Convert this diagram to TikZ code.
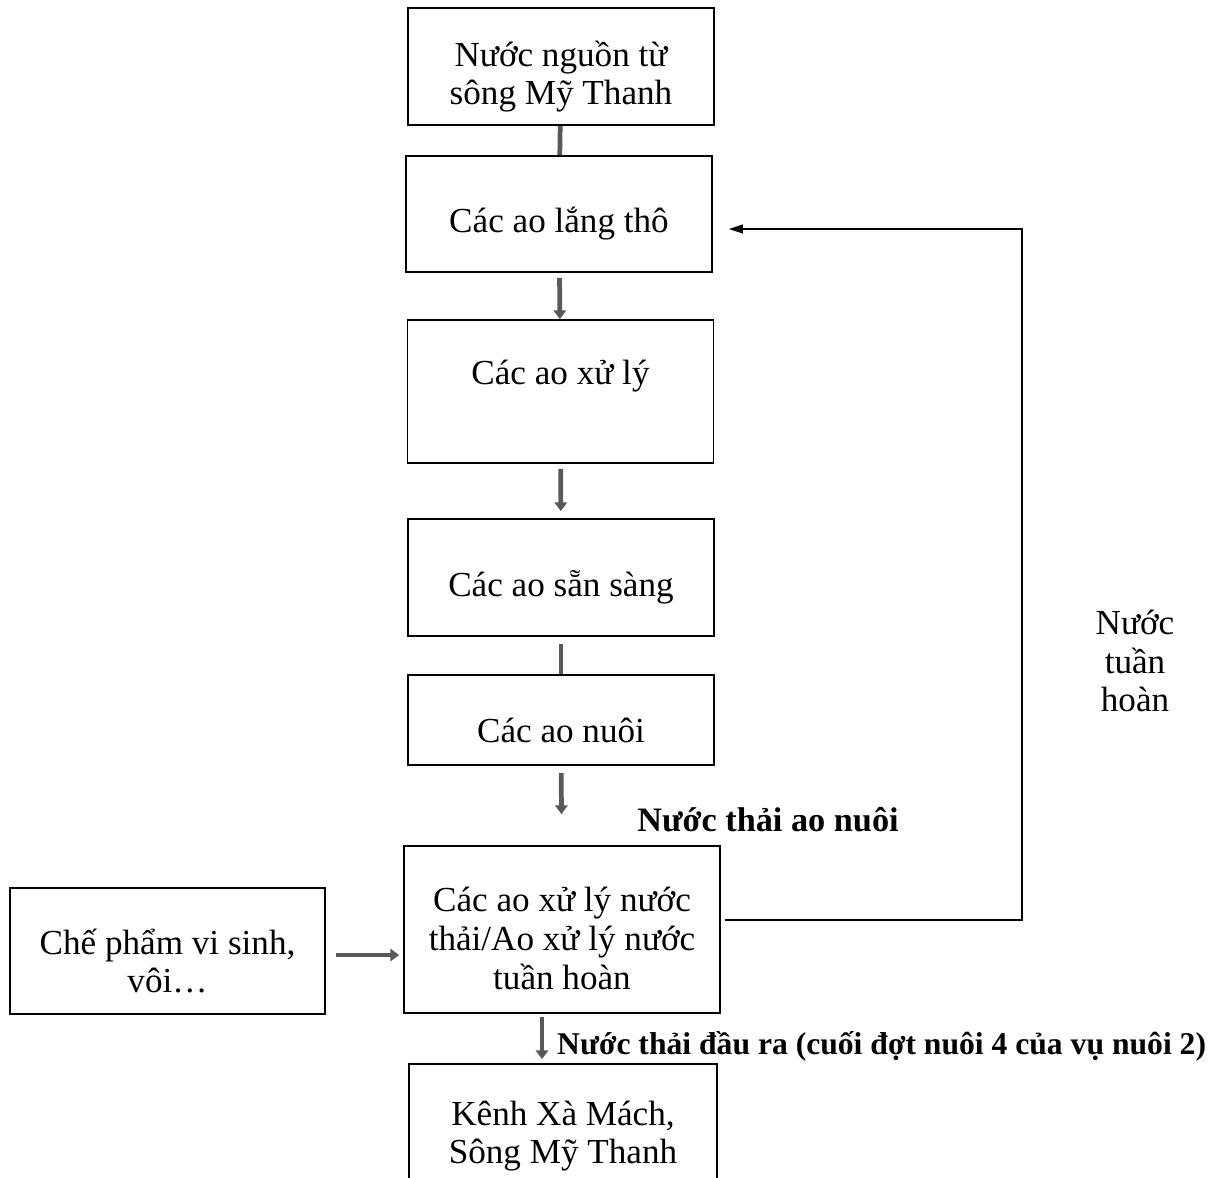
\documentclass[tikz,border=0pt]{standalone}
\usepackage{fontspec}
\setmainfont{Liberation Serif}
\usetikzlibrary{calc}
\usetikzlibrary{arrows.meta}

\begin{document}
\begin{tikzpicture}[x=0.02cm, y=-0.02cm,
  font=\fontsize{20}{22}\selectfont,
  pond/.style={draw=black, line width=1pt, minimum width=6.12cm, inner sep=0pt},
  txt/.style={align=center, yshift=-0.2cm},
  flow/.style={draw=black!65, line width=2.7pt, -{Triangle[length=5pt,width=7pt]}},
  flowbar/.style={draw=black!65, line width=2.7pt},
  loopline/.style={draw=black, line width=0.8pt, -{Triangle[length=8pt,width=5pt]}},
  note/.style={font=\fontsize{18}{22}\selectfont\bfseries}]

\useasboundingbox (0,0) rectangle (1226,1177);

\node[pond, minimum height=2.34cm, label={[txt]center:Nước nguồn từ\\sông Mỹ Thanh}] (src) at (561,66.5) {};
\node[pond, minimum height=2.32cm, label={[txt]center:Các ao lắng thô}] (settle) at (559,214) {};
\node[pond, minimum height=2.86cm, label={[txt, yshift=0.5cm]center:Các ao xử lý}] (treat) at (560.5,391.5) {};
\node[pond, minimum height=2.34cm, label={[txt]center:Các ao sẵn sàng}] (ready) at (561,577.5) {};
\node[pond, minimum height=1.8cm, label={[txt]center:Các ao nuôi}] (farm) at (561,720) {};
\node[pond, minimum width=6.32cm, minimum height=3.34cm, label={[txt, yshift=0.02cm]center:Các ao xử lý nước\\thải/Ao xử lý nước\\tuần hoàn}] (waste) at (562,929.5) {};
\node[pond, minimum width=6.3cm, minimum height=2.52cm, label={[txt]center:Chế phẩm vi sinh,\\vôi…}] (probio) at (167.5,951) {};
\node[pond, minimum width=6.16cm, minimum height=2.6cm, label={[txt, yshift=0.06cm]center:Kênh Xà Mách,\\Sông Mỹ Thanh}] (canal) at (563,1129) {};

\draw[flowbar] (src) -- (settle);
\draw[flow, shorten <=0.1cm] (settle) -- (treat);
\draw[flow, shorten <=0.1cm, shorten >=0.14cm] (treat) -- (ready);
\draw[flowbar, shorten <=0.14cm] (ready) -- (farm);
\draw[flow, shorten <=0.14cm, shorten >=0.62cm] (farm) -- (waste);
\draw[flow, shorten <=0.06cm, shorten >=0.08cm] ([xshift=-0.4cm]waste.south) -- ([xshift=-0.4cm]waste.south |- canal.north);
\draw[flow, shorten <=0.2cm, shorten >=0.08cm] (probio.east |- 0,955) -- (waste.west |- 0,955);

\coordinate (rb) at (1022,920);
\coordinate (rt) at (1022,229);
\draw[loopline, shorten <=0.08cm, shorten >=0.32cm] (waste.east |- rb) -- (rb) -- (rt) -- (settle.east |- rt);

\node[note, font=\fontsize{19.5}{22}\selectfont\bfseries] (outlbl) at (768,820) {Nước thải ao nuôi};
\node[note, anchor=west] (effl) at (551,1046) {Nước thải đầu ra (cuối đợt nuôi 4 của vụ nuôi 2)};
\node[align=center] (recirc) at (1135,661) {Nước\\tuần\\hoàn};

\end{tikzpicture}
\end{document}
